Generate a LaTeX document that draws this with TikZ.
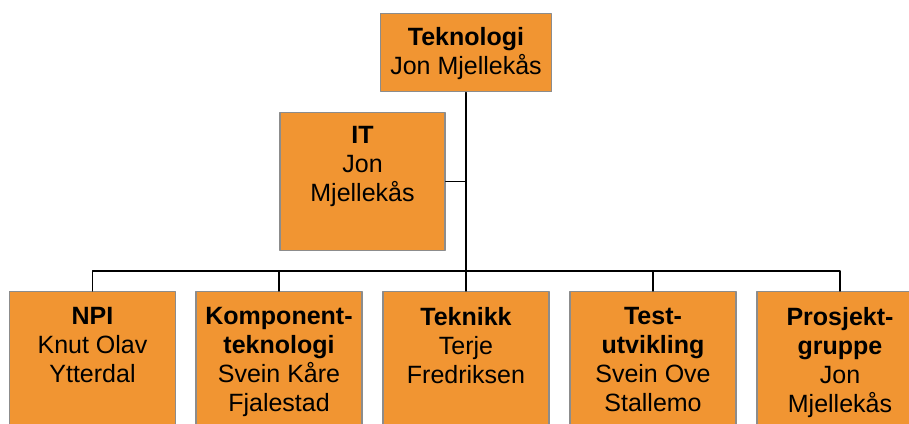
\documentclass[tikz,border=0pt]{standalone}
\usepackage{fontspec}
\setmainfont{Liberation Sans}
\usetikzlibrary{positioning}
\definecolor{boxorange}{RGB}{241,149,50}
\definecolor{boxgrey}{RGB}{140,140,140}

\begin{document}
\begin{tikzpicture}[line cap=round,line join=round,x=1pt,y=1pt,
  unit/.style={draw=boxgrey, line width=1.5pt, fill=boxorange, minimum width=166pt, minimum height=170pt, inner sep=0pt, anchor=north},
  who/.style={anchor=north, align=center, inner sep=0pt, font=\fontsize{25}{29}\selectfont, yshift=-14pt},
  link/.style={line width=1.5pt}]

\useasboundingbox (0,0) rectangle (909,423);
\clip (0,0) rectangle (909,423);

\node [unit, minimum width=171pt, minimum height=78pt] (tek) at (466,410) {};
\node [unit, minimum width=165pt, minimum height=138pt] (it) at (362.5,311) {};

\node [unit] (npi) at (92.5,132) {};
\node [unit] (komp) at (279,132) {};
\node [unit] (teknikk) at (466,132) {};
\node [unit] (test) at (653,132) {};
\node [unit] (prosjekt) at (840,132) {};

\coordinate (bus) at (0,152);

\draw [link] (tek.south) -- (teknikk.north);
\draw [link] (it.east) -- (it.east -| tek.south);
\draw [link] (npi.north) |- (prosjekt.north |- bus) -- (prosjekt.north);
\draw [link] (komp.north) -- (komp.north |- bus);
\draw [link] (test.north) -- (test.north |- bus);

\node [who] (tektxt) at (tek.north) {\textbf{Teknologi}\\Jon Mjellekås};
\node [who] (ittxt) at (it.north) {\textbf{IT}\\Jon\\Mjellekås};
\node [who, yshift=-2pt] (npitxt) at (npi.north) {\textbf{NPI}\\Knut Olav\\Ytterdal};
\node [who, yshift=-2pt] (komptxt) at (komp.north) {\textbf{Komponent-}\\\textbf{teknologi}\\Svein Kåre\\Fjalestad};
\node [who, yshift=-2pt] (teknikktxt) at (teknikk.north) {\textbf{Teknikk}\\Terje\\Fredriksen};
\node [who, yshift=-2pt] (testtxt) at (test.north) {\textbf{Test-}\\\textbf{utvikling}\\Svein Ove\\Stallemo};
\node [who, yshift=-2pt] (prosjekttxt) at (prosjekt.north) {\textbf{Prosjekt-}\\\textbf{gruppe}\\Jon\\Mjellekås};
\end{tikzpicture}
\end{document}
